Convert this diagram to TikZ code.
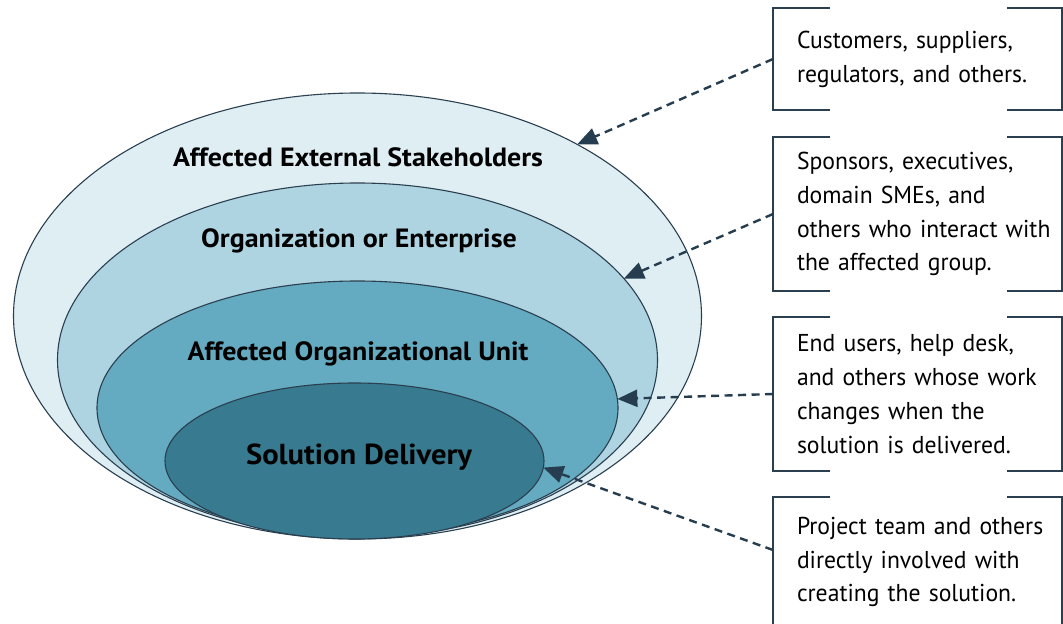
\documentclass[tikz,border=0pt]{standalone}
\usepackage{fontspec}
\setmainfont{PT Sans}[FakeStretch=0.97]
\newfontfamily\lblfont{PT Sans}[FakeStretch=1.06]
\usetikzlibrary{arrows.meta,shapes.geometric}
\definecolor{ringA}{HTML}{DFEEF3}
\definecolor{ringB}{HTML}{AED4E2}
\definecolor{ringC}{HTML}{64AAC0}
\definecolor{ringD}{HTML}{387A8F}
\definecolor{edgec}{HTML}{2A3F4F}
\definecolor{arrc}{HTML}{253D4F}
\tikzset{
  ring/.style={ellipse, draw=edgec, line width=1.1bp, inner sep=0pt, outer sep=0pt},
  lbl/.style={font=\lblfont\bfseries\fontsize{26.5}{30}\selectfont, text=black, inner sep=0pt},
  infobox/.style={anchor=north west, text width=289bp, inner xsep=0pt, inner ysep=0pt, outer sep=0pt,
     align=left, font=\fontsize{24.5}{34}\selectfont, text=black,
     execute at begin node={\leftskip=24bp\relax}},
  brk/.style={draw=edgec, line width=2bp},
  callout/.style={draw=arrc, line width=2.4bp, dash pattern=on 8bp off 5.5bp,
     -{Triangle[length=20bp,width=17bp]}}
}
\begin{document}
\begin{tikzpicture}[x=1bp,y=-1bp]
\useasboundingbox (0,0) rectangle (1063,624);
% rings
\node[ring, fill=ringA, minimum width=688bp, minimum height=446bp] (outer) at (357.5,316) {};
\node[ring, fill=ringB, minimum width=600bp, minimum height=354bp] (org) at (357.5,360) {};
\node[ring, fill=ringC, minimum width=521bp, minimum height=254bp] (unit) at (357.5,408) {};
\node[ring, fill=ringD, minimum width=379bp, minimum height=156bp] (sol) at (354.5,461) {};
% labels
\node[lbl] (l1) at (358,157) {Affected External Stakeholders};
\node[lbl] (l2) at (359,241) {Organization or Enterprise};
\node[lbl] (l3) at (358,354) {Affected Organizational Unit};
\node[lbl, font=\lblfont\bfseries\fontsize{29}{34}\selectfont] (l4) at (359,457) {Solution Delivery};
% boxes
\node[infobox, minimum height=102bp] (b1) at (773,8) {Customers, suppliers,\\regulators, and others.};
\node[infobox, minimum height=154bp] (b2) at (773,137) {Sponsors, executives,\\domain SMEs, and\\others who interact with\\the affected group.};
\node[infobox, minimum height=154bp] (b3) at (773,317) {End users, help desk,\\and others whose work\\changes when the\\solution is delivered.};
\node[infobox, minimum height=130bp] (b4) at (773,497) {Project team and others\\directly involved with\\creating the solution.};
\foreach \b in {b1,b2,b3,b4}{
  \draw[brk] ([xshift=57bp]\b.north west) -- (\b.north west) -- (\b.south west) -- ([xshift=57bp]\b.south west);
  \draw[brk] ([xshift=-55bp]\b.north east) -- (\b.north east) -- (\b.south east) -- ([xshift=-55bp]\b.south east);
}
% callouts
\draw[callout] (b1.west) -- (outer.38);
\draw[callout] (b2.west) -- (org.17.2);
\draw[callout] (b3.west) -- (unit.2.6);
\draw[callout] ([yshift=-53bp]b4.north west) -- (sol.-2);
\end{tikzpicture}
\end{document}
